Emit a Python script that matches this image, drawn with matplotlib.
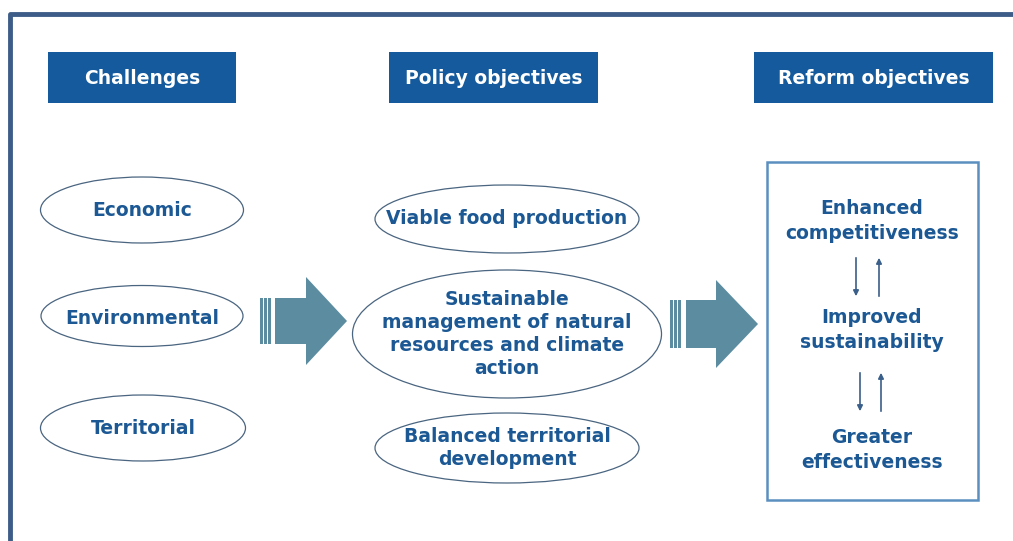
import matplotlib.pyplot as plt
from matplotlib.patches import Rectangle, Ellipse, Polygon, FancyArrowPatch

# Textos del diagrama
headers = ['Challenges', 'Policy objectives', 'Reform objectives']
challenges = ['Economic', 'Environmental', 'Territorial']
policy = ['Viable food production',
          'Sustainable\nmanagement of natural\nresources and climate\naction',
          'Balanced territorial\ndevelopment']
reform = ['Enhanced\ncompetitiveness', 'Improved\nsustainability', 'Greater\neffectiveness']

header_blue = '#145a9c'
text_blue = '#1b5894'
arrow_col = '#5b8ca0'
edge_col = '#4a6580'
fs = 13.5

fig = plt.figure(figsize=(10.13, 5.41), dpi=100)
ax = fig.add_axes([0, 0, 1, 1])
ax.set_xlim(0, 1013)
ax.set_ylim(541, 0)
ax.axis('off')

# marco exterior (solo arriba e izquierda visibles)
ax.plot([10, 10, 1013], [541, 14, 14], color='#3d5d88', lw=3.5, solid_capstyle='butt')

# cabeceras
header_boxes = [(48, 236), (389, 598), (754, 993)]
for (x0, x1), h in zip(header_boxes, headers):
    ax.add_patch(Rectangle((x0, 52), x1 - x0, 51, facecolor=header_blue, edgecolor='none'))
    ax.text((x0 + x1) / 2, 78, h, color='white', fontsize=fs, fontweight='bold',
            ha='center', va='center')

# elipses de desafios
ch_geo = [(142, 210, 203, 66), (142, 316, 202, 61), (143, 428, 205, 66)]
ch_ty = [211, 319, 429]
for (cx, cy, w, hh), ty, t in zip(ch_geo, ch_ty, challenges):
    ax.add_patch(Ellipse((cx, cy), w, hh, facecolor='white', edgecolor=edge_col, lw=0.9))
    ax.text(cx, ty, t, color=text_blue, fontsize=fs, fontweight='bold',
            ha='center', va='center')

# elipses de objetivos politicos
po_geo = [(507, 219, 264, 68), (507, 334, 309, 128), (507, 448, 264, 70)]
for (cx, cy, w, hh), t in zip(po_geo, policy):
    ax.add_patch(Ellipse((cx, cy), w, hh, facecolor='white', edgecolor=edge_col, lw=0.9))
    ax.text(cx, cy, t, color=text_blue, fontsize=fs, fontweight='bold',
            ha='center', va='center', linespacing=1.28)

# flechas grandes
def big_arrow(xs, xb, xh, xt, yb0, yb1, yh0, yh1):
    for s0, s1 in [(xs, xs + 2.5), (xs + 4, xs + 6.5), (xs + 8, xs + 11)]:
        ax.add_patch(Rectangle((s0, yb0), s1 - s0, yb1 - yb0, facecolor=arrow_col, edgecolor='none'))
    ym = (yh0 + yh1) / 2
    pts = [(xb, yb0), (xh, yb0), (xh, yh0), (xt, ym), (xh, yh1), (xh, yb1), (xb, yb1)]
    ax.add_patch(Polygon(pts, closed=True, facecolor=arrow_col, edgecolor='none'))

big_arrow(260, 275, 306, 347, 298, 344, 277, 365)
big_arrow(670, 686, 716, 758, 300, 348, 280, 368)

# caja de objetivos de reforma
ax.add_patch(Rectangle((767, 162), 211, 338, facecolor='none', edgecolor='#5a8fc0', lw=1.8))
ref_y = [221, 330, 450]
for y, t in zip(ref_y, reform):
    ax.text(872, y, t, color=text_blue, fontsize=fs, fontweight='bold',
            ha='center', va='center', linespacing=1.38)

# flechas pequeñas
for (xd, xu, y0, y1) in [(856, 879, 255, 299), (860, 881, 370, 414)]:
    ax.add_patch(FancyArrowPatch((xd, y0), (xd, y1), arrowstyle='-|>', mutation_scale=8,
                                 color='#3a5f8a', lw=1.2))
    ax.add_patch(FancyArrowPatch((xu, y1), (xu, y0), arrowstyle='-|>', mutation_scale=8,
                                 color='#3a5f8a', lw=1.2))

fig.savefig('out.png', dpi=100)
